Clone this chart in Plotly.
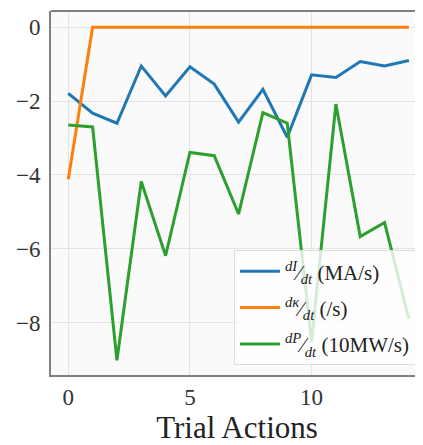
import plotly.graph_objects as go

trials = list(range(15))
dI_dt = [-1.79, -2.33, -2.60, -1.05, -1.86, -1.07, -1.54, -2.57, -1.68, -2.98,
         -1.29, -1.36, -0.93, -1.05, -0.90]
dkappa_dt = [-4.12, 0, 0, 0, 0, 0, 0, 0, 0, 0, 0, 0, 0, 0, 0]
dP_dt = [-2.65, -2.70, -9.02, -4.18, -6.19, -3.39, -3.48, -5.06, -2.31, -2.60,
         -8.52, -2.08, -5.67, -5.29, -7.90]

names = [
    "<sup><i>dI</i></sup>⁄<sub><i>dt</i></sub> (MA/s)",
    "<sup><i>dκ</i></sup>⁄<sub><i>dt</i></sub> (/s)",
    "<sup><i>dP</i></sup>⁄<sub><i>dt</i></sub> (10MW/s)",
]
colors = ["#1f77b4", "#ff7f0e", "#2ca02c"]

fig = go.Figure()
for i, (ys, n, c) in enumerate(zip([dI_dt, dkappa_dt, dP_dt], names, colors)):
    fig.add_trace(go.Scatter(x=trials, y=ys, mode="lines", name=n,
                             legendgroup=f"g{i}",
                             line=dict(color=c, width=3)))

font = "Liberation Serif, DejaVu Serif, serif"
# page body has an 8px default margin, so the figure is sized to fit the window
fig.update_layout(
    width=415, height=437,
    margin=dict(l=43, r=0, t=3, b=70, autoexpand=False),
    paper_bgcolor="white",
    plot_bgcolor="#fafafa",
    font=dict(family=font, size=23, color="#333333"),
    legend=dict(
        x=0.981, y=0.027, xanchor="right", yanchor="bottom",
        bgcolor="rgba(255,255,255,0.8)", bordercolor="#dddddd", borderwidth=1,
        font=dict(family=font, size=21, color="#222222"),
        tracegroupgap=6, itemwidth=40,
    ),
    xaxis=dict(
        range=[-0.71, 14.58], tickvals=[0, 5, 10], ticks="",
        showgrid=True, gridcolor="#e3e3e3", gridwidth=1, automargin=False,
        zeroline=False, showline=True, linecolor="#808080", linewidth=2,
        mirror=False,
        title=dict(text="Trial Actions", font=dict(size=31, color="#222222"), standoff=3),
        tickfont=dict(size=23, color="#333333"),
    ),
    yaxis=dict(
        range=[-9.42, 0.44], tickvals=[0, -2, -4, -6, -8], ticks="",
        showgrid=True, gridcolor="#e3e3e3", gridwidth=1, automargin=False,
        zeroline=False, showline=True, linecolor="#808080", linewidth=2,
        ticklabelstandoff=4,
        tickfont=dict(size=23, color="#333333"),
    ),
)
# top frame line
fig.add_shape(type="line", xref="paper", yref="paper", x0=0, x1=1, y0=1, y1=1,
              line=dict(color="#808080", width=2))

fig.write_html("out.html")
